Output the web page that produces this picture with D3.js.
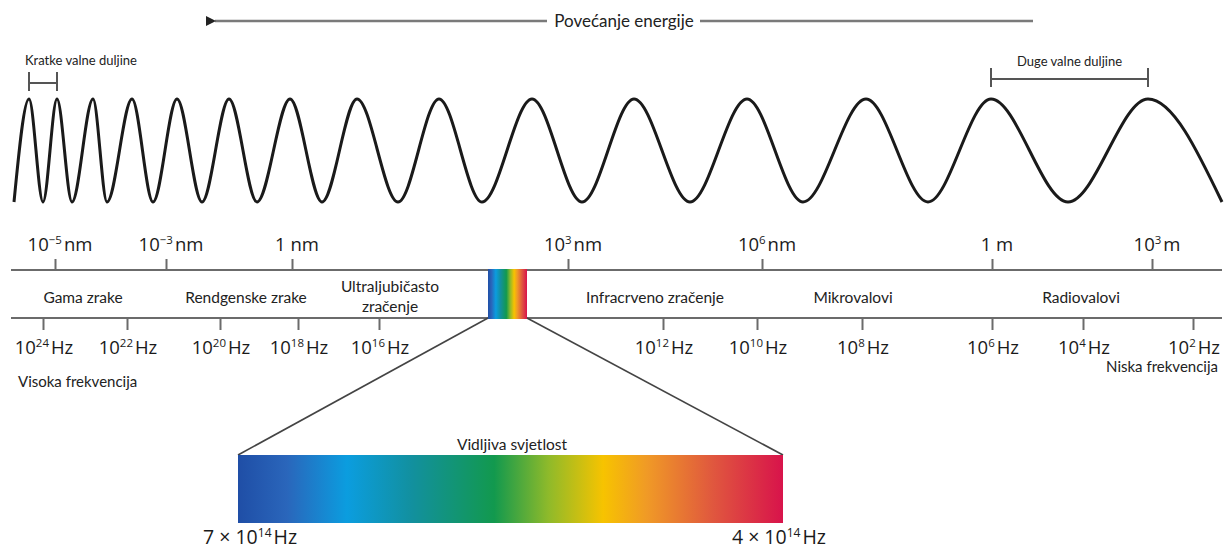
<!DOCTYPE html>
<html><head><meta charset="utf-8">
<script src="https://cdn.jsdelivr.net/npm/d3@7"></script>
<style>
body{margin:0;background:#fff}
svg{display:block}
.lbl{font-family:"Open Sans",sans-serif;fill:#1a1a1a}
.band{font-family:Lato,"Open Sans",sans-serif;fill:#222}
</style>
</head><body>
<svg id="c" width="1225" height="550"></svg>
<script>
// ---------- data ----------
const title = "Povećanje energije";
const shortLabel = "Kratke valne duljine";
const longLabel = "Duge valne duljine";
// wavelength ticks (log10 of metres) and their labels
const wlExp   = [-14, -12, -9, -6, -3, 0, 3];
const wlBase  = ["10", "10", "1", "10", "10", "1", "10"];
const wlSup   = ["\u22125", "\u22123", "", "3", "6", "", "3"];
const wlUnit  = ["nm", "nm", "nm", "nm", "nm", "m", "m"];
// frequency ticks (log10 Hz)
const freqExp = [24, 22, 20, 18, 16, 12, 10, 8, 6, 4, 2];
// spectral regions
const bandNames = [["Gama zrake"], ["Rendgenske zrake"], ["Ultraljubičasto", "zračenje"],
                   ["Infracrveno zračenje"], ["Mikrovalovi"], ["Radiovalovi"]];
// wave extrema (illustration: alternating trough / crest)
const waveX = [14,29,43,57,72,93,107,132,153,177,202,229,257,290,322,357,398,439,482,532,582,634,690,747,803,866,928,991,1068,1148,1222];
const waveV = [-1,1,-1,1,-1,1,-1,1,-1,1,-1,1,-1,1,-1,1,-1,1,-1,1,-1,1,-1,1,-1,1,-1,1,-1,1,-1];
// visible light
const visTitle = "Vidljiva svjetlost";
const visLeft = ["7 \u00d7 10", "14", "Hz"];
const visRight = ["4 \u00d7 10", "14", "Hz"];
const specColors = ["#1f4ea6","#2a66bb","#0b9ddf","#12909e","#12994e","#8fba2a","#f7c300","#f09a26","#e0583e","#d8134b"];
const specOffsets = [0, 0.09, 0.2, 0.32, 0.47, 0.57, 0.67, 0.75, 0.87, 1];
const endLabels = ["Visoka frekvencija", "Niska frekvencija"];

// ---------- layout ----------
const svg = d3.select("#c");
const L = {
  arrowY: 21, arrowX0: 207, arrowX1: 1033, gap0: 547, gap1: 700, titleX: 624,
  waveTop: 99, waveBot: 202,
  wlAxisY: 270, fqAxisY: 318, axisX0: 11, axisX1: 1222,
  wlRange: [55, 166, 292, 568, 762, 992, 1152],
  fqRange: [43, 127, 220, 298, 379, 663, 757, 862, 992, 1083, 1193],
  bandX: [83, 246, 390, 655, 853, 1081],
  smallBar: [488, 527], bigBar: [238, 783], bigBarY: [455, 523]
};
const axisColor = "#6b6b6b";

// gradient
const defs = svg.append("defs");
const grad = defs.append("linearGradient").attr("id", "spec").attr("x1", "0%").attr("x2", "100%");
grad.selectAll("stop").data(specColors).join("stop")
  .attr("offset", (d, i) => specOffsets[i]).attr("stop-color", d => d);
defs.append("marker").attr("id", "ah").attr("viewBox", "0 0 10 10").attr("refX", 1).attr("refY", 5)
  .attr("markerWidth", 5).attr("markerHeight", 4).attr("markerUnits", "strokeWidth").attr("orient", "auto-start-reverse")
  .append("path").attr("d", "M0,5L10,0L10,10Z").attr("fill", "#222");

// ---------- energy arrow ----------
svg.append("line").attr("x1", L.arrowX0 + 8).attr("x2", L.gap0).attr("y1", L.arrowY).attr("y2", L.arrowY)
  .attr("stroke", "#7a7a7a").attr("stroke-width", 2.5).attr("marker-start", "url(#ah)");
svg.append("line").attr("x1", L.gap1).attr("x2", L.arrowX1).attr("y1", L.arrowY).attr("y2", L.arrowY)
  .attr("stroke", "#7a7a7a").attr("stroke-width", 2.5);
svg.append("text").attr("class", "band").attr("x", L.titleX).attr("y", L.arrowY + 6)
  .attr("text-anchor", "middle").attr("font-size", 17).text(title);

// ---------- wave ----------
const wx = d3.scaleLinear().domain([0, 1225]).range([0, 1225]);
const wy = d3.scaleLinear().domain([-1, 1]).range([L.waveBot, L.waveTop]);
const line = d3.line().x(d => wx(d[0])).y(d => wy(d[1])).curve(d3.curveMonotoneX);
svg.append("path").attr("d", line(waveX.map((x, i) => [x, waveV[i]])))
  .attr("fill", "none").attr("stroke", "#1a1a1a").attr("stroke-width", 3);

// brackets for wavelength
function bracket(i0, i1, y) {
  const x0 = wx(waveX[i0]), x1 = wx(waveX[i1]);
  const g = svg.append("g").attr("stroke", "#555").attr("stroke-width", 2);
  g.append("line").attr("x1", x0).attr("x2", x1).attr("y1", y).attr("y2", y);
  g.append("line").attr("x1", x0).attr("x2", x0).attr("y1", y - 11).attr("y2", y + 8);
  g.append("line").attr("x1", x1).attr("x2", x1).attr("y1", y - 11).attr("y2", y + 8);
  return g;
}
bracket(1, 3, 83);
svg.append("text").attr("class", "band").attr("x", 25).attr("y", 65).attr("font-size", 13).text(shortLabel);
bracket(27, 29, 79);
svg.append("text").attr("class", "band").attr("x", (wx(waveX[27]) + wx(waveX[29])) / 2).attr("y", 66)
  .attr("text-anchor", "middle").attr("font-size", 13).text(longLabel);

// ---------- axes ----------
const wlScale = d3.scaleLinear().domain(wlExp).range(L.wlRange);
const fqScale = d3.scaleLinear().domain(freqExp).range(L.fqRange);

[L.wlAxisY, L.fqAxisY].forEach(y => svg.append("line").attr("x1", L.axisX0).attr("x2", L.axisX1)
  .attr("y1", y).attr("y2", y).attr("stroke", axisColor).attr("stroke-width", 2));

const gw = svg.append("g").attr("transform", `translate(0,${L.wlAxisY})`)
  .call(d3.axisTop(wlScale).tickValues(wlExp).tickSize(11).tickFormat(""));
gw.select(".domain").remove();
gw.selectAll(".tick line").attr("stroke", axisColor).attr("stroke-width", 2);

const gf = svg.append("g").attr("transform", `translate(0,${L.fqAxisY})`)
  .call(d3.axisBottom(fqScale).tickValues(freqExp).tickSize(12).tickFormat(""));
gf.select(".domain").remove();
gf.selectAll(".tick line").attr("stroke", axisColor).attr("stroke-width", 2);

function supText(x, y, base, sup, unit, size, anchor) {
  const t = svg.append("text").attr("class", "lbl").attr("x", x).attr("y", y)
    .attr("font-size", size).attr("text-anchor", anchor);
  t.append("tspan").text(base);
  if (sup) t.append("tspan").attr("font-size", size * 0.62).attr("dy", -size * 0.38).text(sup);
  t.append("tspan").attr("dy", sup ? size * 0.38 : 0).attr("dx", sup ? 2 : 0).text((sup ? "" : " ") + unit);
  return t;
}
wlExp.forEach((e, i) => supText(wlScale(e) + 5, 251, wlBase[i], wlSup[i], wlUnit[i], 18.5, "middle"));
freqExp.forEach(e => supText(fqScale(e) + 1, 354, "10", String(e), "Hz", 18.5, "middle"));

// band names
bandNames.forEach((lines, i) => {
  const t = svg.append("text").attr("class", "band").attr("x", L.bandX[i]).attr("font-size", 15.5)
    .attr("text-anchor", "middle");
  const y0 = lines.length === 1 ? 303 : 292;
  lines.forEach((s, j) => t.append("tspan").attr("x", L.bandX[i]).attr("y", y0 + j * 20).text(s));
});

svg.append("text").attr("class", "band").attr("x", 18).attr("y", 387).attr("font-size", 15).text(endLabels[0]);
svg.append("text").attr("class", "band").attr("x", 1218).attr("y", 372).attr("font-size", 15)
  .attr("text-anchor", "end").text(endLabels[1]);

// ---------- visible light ----------
svg.append("line").attr("x1", L.smallBar[0]).attr("y1", L.fqAxisY).attr("x2", L.bigBar[0]).attr("y2", L.bigBarY[0])
  .attr("stroke", "#444").attr("stroke-width", 1.6);
svg.append("line").attr("x1", L.smallBar[1]).attr("y1", L.fqAxisY).attr("x2", L.bigBar[1]).attr("y2", L.bigBarY[0])
  .attr("stroke", "#444").attr("stroke-width", 1.6);
svg.append("rect").attr("x", L.smallBar[0]).attr("y", L.wlAxisY - 1)
  .attr("width", L.smallBar[1] - L.smallBar[0]).attr("height", L.fqAxisY - L.wlAxisY + 2)
  .attr("fill", "url(#spec)");
svg.append("rect").attr("x", L.bigBar[0]).attr("y", L.bigBarY[0])
  .attr("width", L.bigBar[1] - L.bigBar[0]).attr("height", L.bigBarY[1] - L.bigBarY[0])
  .attr("fill", "url(#spec)");
svg.append("text").attr("class", "band").attr("x", 512).attr("y", 450).attr("font-size", 15.5)
  .attr("text-anchor", "middle").text(visTitle);
supText(203, 544, visLeft[0], visLeft[1], visLeft[2], 19.5, "start");
supText(826, 544, visRight[0], visRight[1], visRight[2], 19.5, "end");
</script>
</body></html>
